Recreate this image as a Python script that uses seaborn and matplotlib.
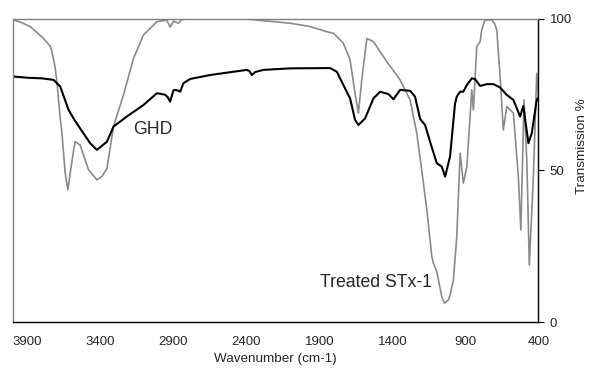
############################# Data Set-up ################################

# Imports
import matplotlib
matplotlib.use("Agg")
import matplotlib.pyplot as plt
import seaborn as sns

# GHD spectrum (black)
ghd_wn = [3996, 3900, 3800, 3722, 3676, 3619, 3580, 3540, 3471, 3425, 3356, 3311,
          3220, 3106, 3014, 2957, 2940, 2923, 2900, 2889, 2866, 2854,
          2832, 2786, 2649, 2398, 2380, 2363, 2340, 2284, 2101, 1827, 1781, 1736,
          1690, 1656, 1633, 1587, 1530, 1484, 1450, 1427, 1393, 1347, 1279, 1245,
          1210, 1176, 1142, 1096, 1062, 1039, 1005, 971, 959, 936, 914, 890, 856,
          834, 799, 753, 708, 662, 616, 571, 525, 503, 468, 445, 411, 400]
ghd_t = [81.0, 80.6, 80.4, 79.9, 77.7, 70.0, 66.8, 63.9, 59.0, 56.8, 59.5, 64.5,
         67.8, 71.6, 75.5, 75.0, 74.2, 72.7, 76.5, 76.6, 76.3, 76.0,
         78.8, 80.2, 81.5, 83.2, 82.8, 81.5, 82.5, 83.2, 83.7, 83.8, 82.6, 78.2,
         73.8, 66.7, 65.0, 67.2, 73.8, 76.0, 75.5, 75.2, 73.5, 76.6, 76.3, 74.4,
         67.0, 65.0, 59.5, 52.4, 51.3, 48.0, 54.6, 72.0, 74.4, 76.0, 76.0, 78.2, 80.4,
         80.2, 77.9, 78.5, 78.5, 77.4, 74.9, 73.3, 67.8, 71.3, 59.0, 62.3, 73.3, 74.0]

# Treated STx-1 spectrum (grey)
stx_wn = [3996, 3940, 3882, 3791, 3745, 3733, 3711, 3699, 3676, 3665, 3642, 3624,
          3608, 3590, 3574, 3540, 3482, 3425, 3390, 3356, 3311, 3243, 3174, 3106,
          3014, 2992, 2946, 2923, 2900, 2866, 2843, 2800, 2400, 2300, 2101, 1964,
          1850, 1804, 1736, 1690, 1656, 1633, 1610, 1575, 1530, 1438, 1347, 1279,
          1233, 1188, 1164, 1130, 1119, 1096, 1060, 1043, 1016, 1005, 982, 959,
          948, 936, 914, 890, 856, 845, 822, 799, 788, 765, 719, 700, 685, 662,
          640, 616, 571, 537, 520, 498, 479, 462, 434, 411, 400]
stx_t = [99.7, 98.8, 97.5, 93.6, 91.0, 89.2, 84.0, 79.3, 67.0, 62.8, 49.1, 43.6,
         49.1, 55.0, 59.5, 58.4, 50.2, 46.9, 48.0, 50.7, 64.5, 74.9, 87.0, 94.7,
         99.1, 99.3, 99.6, 97.3, 99.3, 98.6, 99.8, 100.0, 100.0, 99.5, 98.6, 97.5,
         95.8, 95.3, 92.0, 86.5, 75.5, 68.9, 79.9, 93.6, 92.5, 85.9, 79.9, 73.3,
         62.3, 46.0, 37.0, 21.6, 19.4, 16.6, 8.0, 6.2, 7.3, 8.9, 13.9, 28.2,
         41.4, 55.7, 45.8, 51.3, 76.6, 70.0, 90.9, 92.5, 96.4, 99.7, 99.7, 98.5,
         96.4, 81.0, 63.4, 71.1, 68.9, 48.0, 30.4, 73.3, 53.5, 18.8, 48.0, 82.1, 74.0]

# Axis ticks
x_ticks = [3900, 3400, 2900, 2400, 1900, 1400, 900, 400]
y_ticks = [0, 50, 100]

############################# Plotting ################################

sns.set_style("white")
plt.rcParams["font.family"] = ["Liberation Sans", "DejaVu Sans"]

fig = plt.figure(figsize = (5.89, 3.72), dpi = 100)
ax = fig.add_axes([0.022, 0.1344, 0.892, 0.8146])

# Grey spectrum first, black on top
sns.lineplot(x = stx_wn, y = stx_t, color = "#8a8a8a", linewidth = 1.2, ax = ax)
sns.lineplot(x = ghd_wn, y = ghd_t, color = "black", linewidth = 1.5, ax = ax)

# Reversed wavenumber axis
ax.set_xlim(4000, 400)
ax.set_ylim(0, 100)
ax.set_xticks(x_ticks)
ax.set_yticks(y_ticks)

# Transmission axis on the right
ax.yaxis.tick_right()
ax.tick_params(axis = "both", direction = "out", length = 4, width = 0.8,
               labelsize = 9.5, color = "black", pad = 6)
ax.tick_params(axis = "y", pad = 4)

ax.set_xlabel("Wavenumber (cm-1)", fontsize = 9.7, labelpad = 4)
ax.set_ylabel("")

# Y axis title sits near the right edge, above the middle
fig.text(0.9875, 0.6075, "Transmission %", fontsize = 9.7, rotation = 90,
         ha = "center", va = "center")

# Spines: grey plot area border, black axes
for side in ["top", "left"]:
    ax.spines[side].set_color("#808080")
    ax.spines[side].set_linewidth(1.0)
for side in ["bottom", "right"]:
    ax.spines[side].set_color("black")
    ax.spines[side].set_linewidth(1.0)

# Series labels
ax.text(3174, 63.4, "GHD", fontsize = 12.7, va = "center", ha = "left")
ax.text(1895, 12.9, "Treated STx-1", fontsize = 12.7, va = "center", ha = "left")

plt.savefig("out.png", dpi = 100)
plt.close()
